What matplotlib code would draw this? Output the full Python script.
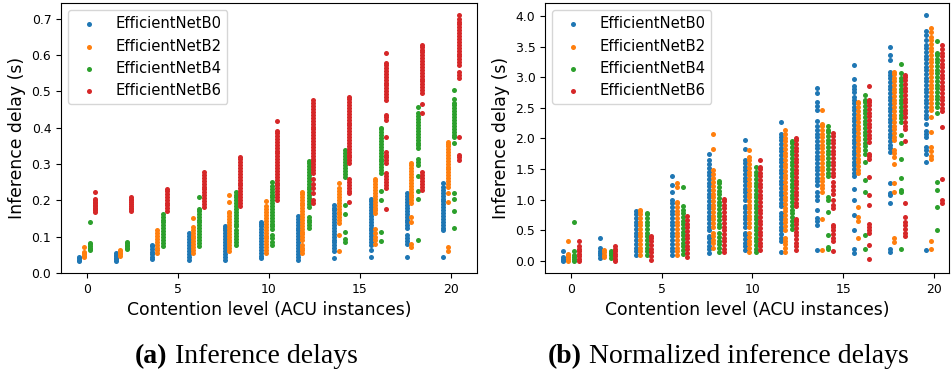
import matplotlib
matplotlib.use('Agg')
import matplotlib.pyplot as plt

LEVELS = [0, 2, 4, 6, 8, 10, 12, 14, 16, 18, 20]
MODELS = ['EfficientNetB0', 'EfficientNetB2', 'EfficientNetB4', 'EfficientNetB6']
COLORS = ['tab:blue', 'tab:orange', 'tab:green', 'tab:red']
OFFSETS = [-0.42, -0.18, 0.18, 0.42]

# inference delay (s), one list per contention level
delay_b0 = [
    [0.032, 0.036, 0.040, 0.044],
    [0.034, 0.038, 0.042, 0.046, 0.050, 0.054],
    [0.038, 0.045, 0.052, 0.059, 0.066, 0.073, 0.078],
    [0.037, 0.045, 0.053, 0.061, 0.069, 0.077, 0.085, 0.093, 0.101, 0.109],
    [0.037, 0.045, 0.053, 0.061, 0.069, 0.077, 0.085, 0.093, 0.101, 0.109, 0.117, 0.125, 0.129],
    [0.040, 0.048, 0.056, 0.064, 0.072, 0.080, 0.088, 0.096, 0.104, 0.112, 0.120, 0.128, 0.136, 0.140],
    [0.037, 0.045, 0.053, 0.061, 0.069, 0.077, 0.085, 0.093, 0.101, 0.109, 0.117, 0.125, 0.133, 0.141, 0.149, 0.156],
    [0.040, 0.060, 0.068, 0.076, 0.084, 0.092, 0.100, 0.108, 0.116, 0.124, 0.132, 0.140, 0.148, 0.156, 0.164, 0.172, 0.180, 0.187],
    [0.043, 0.064, 0.077, 0.085, 0.093, 0.101, 0.109, 0.117, 0.125, 0.133, 0.141, 0.149, 0.157, 0.165, 0.173, 0.181, 0.189, 0.197, 0.205],
    [0.043, 0.081, 0.089, 0.097, 0.105, 0.123, 0.131, 0.139, 0.147, 0.155, 0.163, 0.171, 0.179, 0.187, 0.195, 0.203, 0.211, 0.221],
    [0.043, 0.117, 0.125, 0.133, 0.141, 0.149, 0.157, 0.165, 0.173, 0.181, 0.189, 0.197, 0.205, 0.213, 0.221, 0.229, 0.237, 0.248],
]
delay_b2 = [
    [0.043, 0.047, 0.051, 0.055, 0.058, 0.072],
    [0.048, 0.052, 0.056, 0.060, 0.064],
    [0.054, 0.062, 0.070, 0.078, 0.086, 0.094, 0.102, 0.110, 0.117],
    [0.055, 0.063, 0.071, 0.079, 0.087, 0.095, 0.103, 0.111, 0.119, 0.126, 0.150],
    [0.060, 0.068, 0.076, 0.084, 0.092, 0.100, 0.108, 0.116, 0.124, 0.132, 0.140, 0.148, 0.156, 0.164, 0.168, 0.196, 0.216],
    [0.055, 0.063, 0.071, 0.079, 0.087, 0.095, 0.103, 0.111, 0.119, 0.127, 0.135, 0.143, 0.151, 0.159, 0.167, 0.175, 0.183, 0.197],
    [0.054, 0.062, 0.070, 0.078, 0.090, 0.098, 0.106, 0.114, 0.122, 0.130, 0.138, 0.146, 0.154, 0.162, 0.170, 0.178, 0.186, 0.194, 0.202, 0.210, 0.218, 0.224],
    [0.061, 0.105, 0.137, 0.145, 0.153, 0.161, 0.169, 0.177, 0.185, 0.193, 0.201, 0.209, 0.217, 0.225, 0.233, 0.248],
    [0.079, 0.090, 0.100, 0.111, 0.120, 0.164, 0.172, 0.180, 0.188, 0.196, 0.204, 0.212, 0.220, 0.228, 0.236, 0.244, 0.252, 0.260],
    [0.071, 0.081, 0.139, 0.155, 0.192, 0.200, 0.208, 0.216, 0.224, 0.232, 0.240, 0.248, 0.256, 0.264, 0.272, 0.280, 0.288, 0.296, 0.302],
    [0.061, 0.072, 0.196, 0.219, 0.237, 0.245, 0.253, 0.261, 0.269, 0.277, 0.285, 0.293, 0.301, 0.309, 0.317, 0.325, 0.333, 0.341, 0.349, 0.356, 0.361],
]
delay_b4 = [
    [0.062, 0.066, 0.070, 0.074, 0.079, 0.083, 0.140],
    [0.066, 0.070, 0.074, 0.078, 0.082, 0.086],
    [0.075, 0.083, 0.091, 0.099, 0.107, 0.115, 0.123, 0.131, 0.139, 0.147, 0.155, 0.161],
    [0.075, 0.083, 0.091, 0.099, 0.107, 0.115, 0.123, 0.131, 0.139, 0.147, 0.155, 0.163, 0.171, 0.177, 0.210],
    [0.078, 0.086, 0.094, 0.102, 0.110, 0.118, 0.128, 0.136, 0.144, 0.152, 0.160, 0.168, 0.176, 0.184, 0.192, 0.200, 0.208, 0.216, 0.222],
    [0.077, 0.085, 0.095, 0.105, 0.120, 0.128, 0.136, 0.144, 0.152, 0.160, 0.168, 0.176, 0.184, 0.192, 0.200, 0.208, 0.216, 0.224, 0.232, 0.240, 0.250],
    [0.123, 0.131, 0.139, 0.147, 0.155, 0.182, 0.190, 0.198, 0.206, 0.214, 0.222, 0.230, 0.238, 0.246, 0.254, 0.262, 0.270, 0.278, 0.286, 0.294, 0.302, 0.307],
    [0.086, 0.093, 0.113, 0.161, 0.187, 0.265, 0.273, 0.281, 0.289, 0.297, 0.305, 0.313, 0.321, 0.329, 0.338],
    [0.089, 0.113, 0.202, 0.225, 0.275, 0.283, 0.291, 0.299, 0.307, 0.315, 0.323, 0.331, 0.339, 0.347, 0.355, 0.363, 0.371, 0.379, 0.387, 0.395, 0.398],
    [0.091, 0.203, 0.227, 0.267, 0.297, 0.306, 0.315, 0.343, 0.351, 0.359, 0.367, 0.375, 0.383, 0.391, 0.399, 0.407, 0.415, 0.423, 0.431, 0.439, 0.458],
    [0.123, 0.171, 0.205, 0.221, 0.358, 0.373, 0.381, 0.389, 0.397, 0.405, 0.413, 0.421, 0.429, 0.437, 0.445, 0.453, 0.461, 0.469, 0.478, 0.504],
]
delay_b6 = [
    [0.168, 0.172, 0.176, 0.180, 0.184, 0.188, 0.192, 0.196, 0.200, 0.205, 0.222],
    [0.170, 0.175, 0.180, 0.185, 0.190, 0.195, 0.200, 0.205, 0.210],
    [0.170, 0.178, 0.186, 0.194, 0.202, 0.210, 0.218, 0.226, 0.232],
    [0.182, 0.190, 0.198, 0.206, 0.214, 0.222, 0.230, 0.238, 0.246, 0.254, 0.262, 0.270, 0.278],
    [0.185, 0.193, 0.201, 0.209, 0.217, 0.225, 0.233, 0.241, 0.249, 0.257, 0.265, 0.273, 0.281, 0.289, 0.297, 0.305, 0.313, 0.318],
    [0.201, 0.209, 0.217, 0.225, 0.233, 0.241, 0.249, 0.257, 0.265, 0.273, 0.281, 0.289, 0.297, 0.305, 0.313, 0.321, 0.329, 0.337, 0.345, 0.353, 0.361, 0.369, 0.377, 0.385, 0.391, 0.418],
    [0.192, 0.201, 0.219, 0.233, 0.245, 0.260, 0.275, 0.283, 0.291, 0.299, 0.307, 0.315, 0.323, 0.331, 0.339, 0.347, 0.355, 0.363, 0.371, 0.379, 0.387, 0.395, 0.403, 0.411, 0.419, 0.427, 0.435, 0.443, 0.451, 0.459, 0.467, 0.476],
    [0.196, 0.219, 0.227, 0.235, 0.243, 0.251, 0.260, 0.302, 0.310, 0.318, 0.326, 0.334, 0.342, 0.350, 0.358, 0.366, 0.374, 0.382, 0.390, 0.398, 0.406, 0.414, 0.422, 0.430, 0.438, 0.446, 0.454, 0.462, 0.470, 0.478, 0.485],
    [0.175, 0.233, 0.241, 0.250, 0.258, 0.266, 0.275, 0.302, 0.310, 0.318, 0.326, 0.334, 0.375, 0.421, 0.428, 0.434, 0.476, 0.484, 0.492, 0.500, 0.508, 0.516, 0.524, 0.532, 0.540, 0.548, 0.556, 0.564, 0.572, 0.577, 0.605],
    [0.229, 0.237, 0.245, 0.253, 0.261, 0.269, 0.278, 0.441, 0.464, 0.495, 0.503, 0.511, 0.519, 0.527, 0.535, 0.543, 0.551, 0.559, 0.567, 0.575, 0.583, 0.591, 0.599, 0.607, 0.615, 0.621, 0.627],
    [0.311, 0.318, 0.324, 0.373, 0.536, 0.545, 0.554, 0.572, 0.580, 0.588, 0.596, 0.604, 0.612, 0.620, 0.628, 0.636, 0.644, 0.652, 0.660, 0.668, 0.676, 0.684, 0.692, 0.698, 0.710],
]

# normalized inference delay (s)
norm_b0 = [
    [0.00, 0.02, 0.04, 0.06, 0.16],
    [0.05, 0.09, 0.13, 0.17, 0.21, 0.37],
    [0.10, 0.16, 0.22, 0.28, 0.34, 0.40, 0.46, 0.52, 0.58, 0.64, 0.70, 0.76, 0.82],
    [0.10, 0.16, 0.22, 0.28, 0.34, 0.40, 0.46, 0.52, 0.58, 0.64, 0.70, 0.76, 0.82, 0.88, 0.94, 0.99, 1.13, 1.24, 1.39],
    [0.13, 0.19, 0.25, 0.31, 0.37, 0.40, 0.50, 0.56, 0.62, 0.68, 0.74, 0.80, 0.86, 0.92, 0.98, 1.04, 1.10, 1.16, 1.22, 1.28, 1.34, 1.40, 1.46, 1.52, 1.59, 1.65, 1.74],
    [0.18, 0.24, 0.30, 0.36, 0.42, 0.45, 0.56, 0.62, 0.68, 0.74, 0.80, 0.86, 0.89, 1.00, 1.06, 1.12, 1.18, 1.24, 1.30, 1.36, 1.42, 1.48, 1.54, 1.60, 1.65, 1.82, 1.97],
    [0.15, 0.32, 0.38, 0.44, 0.50, 0.56, 0.62, 0.68, 0.74, 0.78, 0.89, 0.95, 1.01, 1.07, 1.13, 1.19, 1.25, 1.31, 1.37, 1.43, 1.49, 1.55, 1.61, 1.67, 1.73, 1.79, 1.85, 1.91, 1.97, 2.03, 2.08, 2.26],
    [0.18, 0.59, 0.65, 0.70, 0.84, 0.99, 1.06, 1.13, 1.24, 1.30, 1.36, 1.42, 1.48, 1.54, 1.60, 1.66, 1.72, 1.78, 1.84, 1.90, 1.96, 2.02, 2.08, 2.14, 2.20, 2.28, 2.46, 2.53, 2.60, 2.74, 2.82],
    [0.13, 0.20, 0.51, 0.75, 0.99, 1.17, 1.38, 1.44, 1.50, 1.56, 1.62, 1.68, 1.74, 1.80, 1.86, 1.92, 1.98, 2.04, 2.10, 2.16, 2.22, 2.28, 2.34, 2.40, 2.46, 2.52, 2.58, 2.63, 2.67, 2.75, 2.81, 2.86, 2.97, 3.20],
    [0.15, 0.20, 0.94, 1.07, 1.11, 1.28, 1.78, 1.84, 1.90, 1.96, 2.02, 2.08, 2.14, 2.20, 2.26, 2.32, 2.38, 2.44, 2.50, 2.56, 2.62, 2.68, 2.74, 2.80, 2.86, 2.92, 2.98, 3.04, 3.09, 3.28, 3.36, 3.49],
    [0.18, 1.61, 1.75, 1.81, 1.86, 2.03, 2.08, 2.12, 2.23, 2.33, 2.39, 2.45, 2.51, 2.57, 2.63, 2.69, 2.75, 2.81, 2.87, 2.93, 2.99, 3.05, 3.11, 3.17, 3.23, 3.29, 3.35, 3.41, 3.47, 3.53, 3.60, 3.69, 3.76, 4.01],
]
norm_b2 = [
    [0.00, 0.03, 0.06, 0.09, 0.12, 0.32],
    [0.06, 0.10, 0.14, 0.18],
    [0.10, 0.16, 0.22, 0.28, 0.34, 0.40, 0.46, 0.52, 0.58, 0.64, 0.70, 0.76, 0.82, 0.84],
    [0.10, 0.16, 0.22, 0.28, 0.34, 0.40, 0.46, 0.52, 0.58, 0.64, 0.70, 0.76, 0.82, 0.88, 0.94, 0.97, 1.21, 1.27],
    [0.22, 0.29, 0.35, 0.41, 0.45, 0.56, 0.62, 0.68, 0.74, 0.80, 0.86, 0.92, 0.98, 1.04, 1.10, 1.16, 1.22, 1.29, 1.36, 1.42, 1.48, 1.82, 2.08],
    [0.15, 0.21, 0.27, 0.33, 0.39, 0.45, 0.56, 0.62, 0.68, 0.74, 0.80, 0.86, 0.92, 0.98, 1.04, 1.10, 1.16, 1.22, 1.28, 1.34, 1.40, 1.46, 1.52, 1.58, 1.64, 1.70, 1.81],
    [0.15, 0.21, 0.27, 0.33, 0.37, 0.51, 0.57, 0.63, 0.69, 0.75, 0.81, 0.87, 0.93, 0.99, 1.05, 1.11, 1.17, 1.23, 1.29, 1.35, 1.41, 1.47, 1.53, 1.59, 1.65, 1.71, 1.77, 1.83, 1.89, 1.95, 2.01, 2.07, 2.14],
    [0.18, 0.68, 1.13, 1.19, 1.24, 1.30, 1.36, 1.42, 1.48, 1.54, 1.60, 1.66, 1.72, 1.78, 1.84, 1.90, 1.96, 2.02, 2.08, 2.14, 2.20, 2.24, 2.47],
    [0.38, 0.65, 0.72, 0.88, 1.43, 1.49, 1.55, 1.61, 1.67, 1.73, 1.79, 1.85, 1.91, 1.97, 2.03, 2.09, 2.15, 2.21, 2.27, 2.33, 2.39, 2.45, 2.51, 2.57, 2.60],
    [0.31, 0.38, 1.13, 1.28, 1.58, 1.70, 1.76, 1.81, 1.97, 2.03, 2.09, 2.15, 2.21, 2.27, 2.33, 2.39, 2.45, 2.51, 2.57, 2.63, 2.69, 2.75, 2.81, 2.87, 2.93, 2.99, 3.05, 3.09],
    [0.20, 0.32, 1.66, 1.72, 1.79, 1.86, 2.11, 2.35, 2.46, 2.52, 2.58, 2.64, 2.70, 2.76, 2.82, 2.88, 2.94, 3.00, 3.06, 3.12, 3.18, 3.24, 3.30, 3.36, 3.42, 3.48, 3.54, 3.60, 3.66, 3.74, 3.80],
]
norm_b4 = [
    [0.00, 0.03, 0.06, 0.09, 0.17, 0.63],
    [0.05, 0.09, 0.13, 0.17],
    [0.10, 0.16, 0.22, 0.28, 0.34, 0.40, 0.46, 0.52, 0.58, 0.64, 0.70, 0.76, 0.79],
    [0.12, 0.18, 0.24, 0.30, 0.36, 0.42, 0.48, 0.54, 0.60, 0.66, 0.72, 0.78, 0.84, 0.90, 1.20],
    [0.15, 0.21, 0.27, 0.33, 0.39, 0.45, 0.55, 0.61, 0.67, 0.73, 0.79, 0.85, 0.91, 0.97, 1.03, 1.09, 1.15, 1.21, 1.27, 1.31],
    [0.14, 0.20, 0.26, 0.32, 0.38, 0.44, 0.50, 0.56, 0.62, 0.68, 0.74, 0.80, 0.86, 0.92, 0.98, 1.04, 1.10, 1.16, 1.22, 1.28, 1.34, 1.40, 1.46, 1.53],
    [0.53, 0.59, 0.66, 0.72, 0.78, 0.84, 0.90, 0.96, 1.02, 1.08, 1.14, 1.20, 1.26, 1.32, 1.38, 1.44, 1.50, 1.56, 1.62, 1.68, 1.74, 1.80, 1.86, 1.92, 1.96],
    [0.19, 0.23, 0.42, 0.80, 1.00, 1.05, 1.38, 1.44, 1.50, 1.56, 1.62, 1.68, 1.74, 1.80, 1.86, 1.92, 1.98, 2.04, 2.10, 2.14, 2.20],
    [0.20, 0.42, 1.13, 1.32, 1.62, 1.75, 1.81, 1.87, 1.93, 1.99, 2.05, 2.11, 2.17, 2.23, 2.29, 2.35, 2.41, 2.47, 2.53, 2.59, 2.63, 2.71],
    [0.20, 1.12, 1.16, 1.35, 1.66, 1.93, 2.05, 2.27, 2.33, 2.39, 2.45, 2.51, 2.57, 2.63, 2.69, 2.75, 2.81, 2.87, 2.93, 2.98, 3.07, 3.22],
    [0.50, 0.88, 1.16, 1.29, 2.42, 2.52, 2.58, 2.64, 2.70, 2.76, 2.82, 2.88, 2.94, 3.00, 3.06, 3.12, 3.18, 3.24, 3.30, 3.36, 3.39, 3.59],
]
norm_b6 = [
    [0.00, 0.04, 0.08, 0.12, 0.16, 0.20, 0.25, 0.33],
    [0.00, 0.04, 0.08, 0.12, 0.16, 0.20, 0.25],
    [0.02, 0.08, 0.14, 0.20, 0.26, 0.32, 0.38, 0.40],
    [0.07, 0.13, 0.19, 0.25, 0.31, 0.37, 0.43, 0.49, 0.55, 0.61, 0.67, 0.73],
    [0.14, 0.20, 0.26, 0.32, 0.38, 0.44, 0.50, 0.56, 0.62, 0.68, 0.74, 0.80, 0.86, 0.92, 0.98, 1.01],
    [0.18, 0.24, 0.30, 0.36, 0.42, 0.48, 0.54, 0.60, 0.66, 0.72, 0.78, 0.84, 0.90, 0.96, 1.02, 1.08, 1.14, 1.20, 1.26, 1.32, 1.38, 1.44, 1.50, 1.54, 1.65],
    [0.18, 0.24, 0.30, 0.36, 0.42, 0.48, 0.54, 0.60, 0.66, 0.69, 0.89, 0.95, 1.01, 1.07, 1.13, 1.19, 1.25, 1.31, 1.37, 1.43, 1.49, 1.55, 1.61, 1.67, 1.73, 1.79, 1.85, 1.91, 1.97, 2.00],
    [0.17, 0.32, 0.38, 0.44, 0.50, 0.55, 0.59, 0.86, 0.92, 0.99, 1.10, 1.16, 1.22, 1.29, 1.38, 1.44, 1.50, 1.56, 1.62, 1.68, 1.74, 1.80, 1.86, 1.92, 1.98, 2.04, 2.09],
    [0.04, 0.26, 0.45, 0.50, 0.55, 0.60, 0.91, 1.07, 1.37, 1.67, 1.71, 1.75, 1.94, 2.00, 2.06, 2.12, 2.18, 2.24, 2.30, 2.36, 2.42, 2.48, 2.54, 2.60, 2.63, 2.85],
    [0.40, 0.46, 0.52, 0.58, 0.64, 0.72, 0.95, 1.96, 2.16, 2.21, 2.26, 2.35, 2.41, 2.47, 2.53, 2.59, 2.65, 2.71, 2.77, 2.83, 2.89, 2.95, 3.01, 3.04],
    [0.94, 1.00, 1.33, 2.19, 2.44, 2.50, 2.56, 2.62, 2.68, 2.74, 2.80, 2.86, 2.92, 2.98, 3.04, 3.10, 3.16, 3.22, 3.28, 3.34, 3.40, 3.46, 3.52],
]

TICK_FS = 8.9
LABEL_FS = 12.4
LEGEND_FS = 10.6
CAPTION_FS = 20


def draw_panel(ax, series, xlim, ylim):
    for m_idx, model in enumerate(MODELS):
        for l_idx, level in enumerate(LEVELS):
            vals = series[m_idx][l_idx]
            xs = [level + OFFSETS[m_idx]] * len(vals)
            ax.scatter(xs, vals, s=13, color=COLORS[m_idx], linewidths=0,
                       label=model if l_idx == 0 else None)
    ax.set_xlim(*xlim)
    ax.set_ylim(*ylim)
    ax.set_xticks([0, 5, 10, 15, 20])
    ax.tick_params(labelsize=TICK_FS)
    ax.set_xlabel('Contention level (ACU instances)', fontsize=LABEL_FS)
    ax.set_ylabel('Inference delay (s)', fontsize=LABEL_FS)
    ax.legend(loc='upper left', fontsize=LEGEND_FS)


def caption(fig, ax, x, tag, text):
    t = fig.text(x, 0.037, tag, fontsize=CAPTION_FS, fontweight='bold',
                 family='Liberation Serif', ha='left', va='baseline')
    ax.annotate(text, xy=(1, 0), xycoords=t, ha='left', va='bottom',
                fontsize=CAPTION_FS, family='Liberation Serif', annotation_clip=False)


fig = plt.figure(figsize=(9.51, 3.77), dpi=100)
ax1 = fig.add_axes([61 / 951, 104 / 377, 416 / 951, 270 / 377])
ax2 = fig.add_axes([545 / 951, 104 / 377, 404 / 951, 270 / 377])

draw_panel(ax1, [delay_b0, delay_b2, delay_b4, delay_b6], (-1.43, 21.43), (0, 0.743))
draw_panel(ax2, [norm_b0, norm_b2, norm_b4, norm_b6], (-1.43, 20.83), (-0.196, 4.21))
ax1.set_yticks([0.0, 0.1, 0.2, 0.3, 0.4, 0.5, 0.6, 0.7])
ax2.set_yticks([0.0, 0.5, 1.0, 1.5, 2.0, 2.5, 3.0, 3.5, 4.0])

caption(fig, ax1, 135 / 951, '(a)', ' Inference delays')
caption(fig, ax2, 548 / 951, '(b)', ' Normalized inference delays')

fig.savefig('out.png', dpi=100)
